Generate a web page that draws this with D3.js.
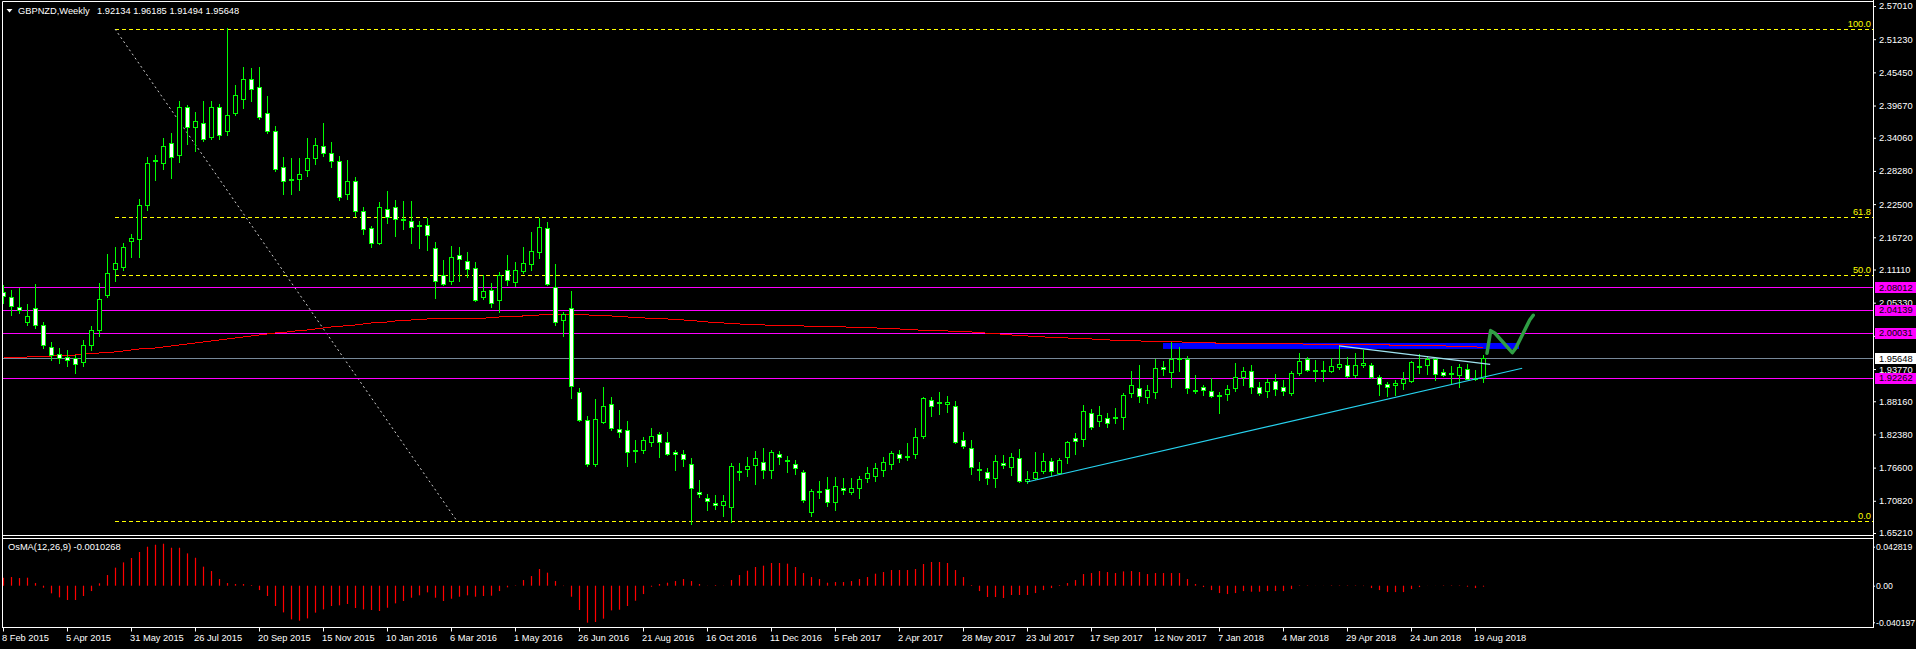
<!DOCTYPE html>
<html><head><meta charset="utf-8">
<script src="https://cdn.jsdelivr.net/npm/d3@7"></script>
<style>
html,body{margin:0;padding:0;background:#000;overflow:hidden}
svg{display:block}
text{font-family:"Liberation Sans",Arial,sans-serif;font-size:9.3px;fill:#fff}
.oaxis text{font-size:8.7px}
</style></head><body>
<svg id="c" width="1916" height="649"></svg>
<script>
const symbolTitle = "GBPNZD,Weekly";
const lastQuote = "1.92134 1.96185 1.91494 1.95648";
const oscTitle = "OsMA(12,26,9) -0.0010268";

const dateLabels = ["8 Feb 2015","5 Apr 2015","31 May 2015","26 Jul 2015","20 Sep 2015","15 Nov 2015","10 Jan 2016","6 Mar 2016","1 May 2016","26 Jun 2016","21 Aug 2016","16 Oct 2016","11 Dec 2016","5 Feb 2017","2 Apr 2017","28 May 2017","23 Jul 2017","17 Sep 2017","12 Nov 2017","7 Jan 2018","4 Mar 2018","29 Apr 2018","24 Jun 2018","19 Aug 2018"];
const dateTickIndex = [0,8,16,24,32,40,48,56,64,72,80,88,96,104,112,120,128,136,144,152,160,168,176,184];

const priceTickLabels = ["2.57010","2.51230","2.45450","2.39670","2.34060","2.28280","2.22500","2.16720","2.11110","2.05330","1.99550","1.93770","1.88160","1.82380","1.76600","1.70820","1.65210"];
const osmaTickValues = [0.042819, 0, -0.040197];
const osmaTickLabels = ["0.042819","0.00","-0.040197"];

const opens = [2.0719,2.0632,2.0458,2.0197,2.0441,2.0145,1.9761,1.9639,1.9587,1.9570,
1.9500,1.9796,2.0057,2.0667,2.1120,2.1155,2.1608,2.1642,2.2235,2.3002,
2.2967,2.3315,2.3106,2.3942,2.3594,2.3664,2.3419,2.3942,2.3524,2.3838,
2.4081,2.4429,2.4290,2.3838,2.3524,2.2897,2.2688,2.2688,2.2845,2.3054,
2.3263,2.3141,2.3002,2.2426,2.2653,2.2130,2.1834,2.1573,2.2165,2.2200,
2.1991,2.1957,2.1887,2.1887,2.1486,2.1016,2.0911,2.1364,2.1260,2.1138,
2.0632,2.0754,2.0580,2.1103,2.0893,2.1085,2.1207,2.1416,2.1834,2.0806,
2.0232,2.0441,1.8977,1.8490,1.7723,1.8455,1.8768,1.8333,1.8315,1.7967,
1.7967,1.8106,1.8246,1.8106,1.7932,1.7897,1.7723,1.7235,1.7131,1.7044,
1.7009,1.6974,1.7584,1.7636,1.7706,1.7758,1.7619,1.7897,1.7793,1.7723,
1.7584,1.6887,1.7253,1.7287,1.7061,1.7305,1.7235,1.7305,1.7479,1.7514,
1.7619,1.7723,1.7897,1.7845,1.7897,1.8211,1.8838,1.8803,1.8768,1.8733,
1.8141,1.8002,1.7619,1.7584,1.7479,1.7741,1.7671,1.7828,1.7427,1.7479,
1.7601,1.7776,1.7566,1.7845,1.8176,1.8159,1.8612,1.8472,1.8525,1.8525,
1.8542,1.8960,1.9047,1.8890,1.8977,1.9413,1.9326,1.9570,1.9553,1.9012,
1.9064,1.8995,1.8925,1.8942,1.9047,1.9239,1.9343,1.9064,1.8995,1.9169,
1.9064,1.8960,1.9309,1.9553,1.9361,1.9343,1.9343,1.9413,1.9448,1.9274,
1.9448,1.9448,1.9239,1.9117,1.9099,1.9134,1.9169,1.9413,1.9448,1.9553,
1.9326,1.9309,1.9274,1.9378,1.9204,1.92134];
const highs = [2.0841,2.0754,2.0789,2.0510,2.0858,2.0197,1.9848,1.9744,1.9709,1.9622,
1.9883,2.0127,2.0876,2.1381,2.1503,2.1573,2.1729,2.2339,2.3071,2.3106,
2.3402,2.3489,2.4047,2.3977,2.3855,2.4047,2.4047,2.3995,2.5318,2.4325,
2.4639,2.4622,2.4639,2.4134,2.3611,2.3071,2.3054,2.3054,2.3402,2.3402,
2.3664,2.3332,2.3089,2.3019,2.2722,2.2200,2.1869,2.2287,2.2479,2.2322,
2.2305,2.2305,2.1957,2.2009,2.1590,2.1277,2.1520,2.1503,2.1416,2.1242,
2.1016,2.0876,2.1068,2.1364,2.1242,2.1503,2.1764,2.2009,2.1939,2.1207,
2.0371,2.0737,1.9047,1.8559,1.8855,1.9064,1.8890,1.8664,1.8472,1.8141,
1.8193,1.8350,1.8280,1.8280,1.7967,1.7967,1.7828,1.7444,1.7200,1.7183,
1.7183,1.7741,1.7741,1.7845,1.7950,1.8002,1.7967,1.7950,1.7863,1.7793,
1.7619,1.7287,1.7427,1.7497,1.7497,1.7479,1.7479,1.7514,1.7671,1.7741,
1.7845,1.7950,1.7967,1.8089,1.8350,1.8890,1.8890,1.8977,1.8907,1.8820,
1.8280,1.8141,1.7758,1.7654,1.7880,1.7880,1.7915,1.7985,1.7601,1.7932,
1.7915,1.7828,1.7828,1.8124,1.8263,1.8751,1.8681,1.8733,1.8612,1.8699,
1.8960,1.9343,1.9448,1.9099,1.9553,1.9518,1.9848,1.9761,1.9605,1.9274,
1.9099,1.9221,1.8977,1.9099,1.9483,1.9413,1.9448,1.9151,1.9204,1.9291,
1.9186,1.9343,1.9657,1.9587,1.9535,1.9518,1.9570,1.9779,1.9587,1.9657,
1.9709,1.9483,1.9274,1.9151,1.9186,1.9326,1.9518,1.9639,1.9605,1.9587,
1.9378,1.9430,1.9465,1.9465,1.9361,1.96185];
const lows = [2.0528,2.0319,2.0354,2.0145,2.0093,1.9744,1.9535,1.9483,1.9430,1.9309,
1.9430,1.9709,1.9952,2.0632,2.0911,2.1103,2.1329,2.1329,2.2148,2.2670,
2.2862,2.2705,2.2984,2.3297,2.3176,2.3350,2.3385,2.3385,2.3454,2.3803,
2.3925,2.4047,2.3733,2.3489,2.2827,2.2426,2.2426,2.2496,2.2740,2.2950,
2.3089,2.2897,2.2322,2.2339,2.2043,2.1729,2.1503,2.1555,2.1921,2.1695,
2.1816,2.1573,2.1486,2.1451,2.0615,2.0841,2.0858,2.0911,2.0981,2.0563,
2.0597,2.0458,2.0371,2.0841,2.0824,2.1051,2.1103,2.1312,2.0841,2.0145,
1.9952,1.8873,1.8472,1.7689,1.7689,1.8437,1.8315,1.8193,1.7689,1.7758,
1.7915,1.8036,1.7845,1.7880,1.7619,1.7689,1.6678,1.7148,1.6922,1.6939,
1.6818,1.6713,1.7444,1.7514,1.7374,1.7479,1.7479,1.7723,1.7584,1.7549,
1.7061,1.6818,1.7131,1.6992,1.6922,1.7200,1.7200,1.7131,1.7409,1.7427,
1.7514,1.7636,1.7758,1.7793,1.7828,1.8176,1.8559,1.8594,1.8629,1.8089,
1.8002,1.7549,1.7444,1.7374,1.7322,1.7654,1.7531,1.7409,1.7392,1.7462,
1.7566,1.7531,1.7549,1.7741,1.7897,1.8036,1.8333,1.8385,1.8368,1.8437,
1.8333,1.8890,1.8803,1.8786,1.8873,1.9274,1.9064,1.9343,1.8960,1.8960,
1.8925,1.8890,1.8612,1.8838,1.8995,1.9099,1.8960,1.8925,1.8890,1.8925,
1.8925,1.8925,1.9274,1.9343,1.9169,1.9169,1.9326,1.9378,1.9239,1.9239,
1.9413,1.9221,1.8925,1.8907,1.8925,1.9029,1.9151,1.9309,1.9291,1.9186,
1.9256,1.9134,1.9064,1.9204,1.9186,1.91494];
const closes = [2.0649,2.0475,2.0406,2.0301,2.0145,1.9796,1.9622,1.9570,1.9535,1.9465,
1.9796,2.0057,2.0597,2.1051,2.1225,2.1503,2.1660,2.2235,2.2967,2.3019,
2.3263,2.3071,2.3942,2.3594,2.3699,2.3385,2.3942,2.3454,2.3803,2.4151,
2.4429,2.4255,2.3768,2.3524,2.2862,2.2653,2.2670,2.2775,2.3054,2.3280,
2.3141,2.3002,2.2374,2.2653,2.2130,2.1816,2.1573,2.2200,2.2026,2.1991,
2.1974,2.1852,2.1869,2.1712,2.0911,2.0858,2.1329,2.1294,2.1120,2.0580,
2.0737,2.0528,2.1016,2.0928,2.1103,2.1225,2.1433,2.1852,2.0858,2.0197,
2.0336,1.9082,1.8490,1.7723,1.8507,1.8733,1.8350,1.8280,1.7932,1.7950,
1.8141,1.8211,1.8106,1.7897,1.7897,1.7810,1.7305,1.7200,1.7079,1.7009,
1.7079,1.7689,1.7601,1.7689,1.7828,1.7619,1.7932,1.7845,1.7776,1.7654,
1.7096,1.7253,1.7235,1.7061,1.7340,1.7270,1.7305,1.7462,1.7566,1.7654,
1.7758,1.7915,1.7828,1.7863,1.8193,1.8873,1.8733,1.8786,1.8803,1.8106,
1.8036,1.7671,1.7636,1.7479,1.7776,1.7706,1.7845,1.7427,1.7462,1.7584,
1.7776,1.7601,1.7793,1.8106,1.8124,1.8646,1.8368,1.8577,1.8437,1.8542,
1.8925,1.9099,1.8907,1.9012,1.9396,1.9378,1.9553,1.9553,1.9047,1.8995,
1.9012,1.8907,1.8907,1.9029,1.9239,1.9343,1.9064,1.8960,1.9151,1.9029,
1.8995,1.9309,1.9518,1.9361,1.9343,1.9361,1.9430,1.9465,1.9256,1.9448,
1.9483,1.9239,1.9117,1.9064,1.9134,1.9204,1.9500,1.9430,1.9553,1.9291,
1.9274,1.9291,1.9413,1.9204,1.9221,1.95648];

const maValues = [1.9570,1.9570,1.9579,1.9587,1.9587,1.9596,1.9605,1.9605,1.9614,1.9622,
1.9640,1.9648,1.9657,1.9666,1.9675,1.9692,1.9709,1.9727,1.9735,1.9744,
1.9762,1.9779,1.9796,1.9814,1.9831,1.9849,1.9866,1.9884,1.9901,1.9918,
1.9936,1.9953,1.9971,1.9988,2.0005,2.0014,2.0032,2.0049,2.0058,2.0075,
2.0093,2.0110,2.0119,2.0136,2.0145,2.0162,2.0180,2.0188,2.0197,2.0215,
2.0223,2.0232,2.0241,2.0249,2.0258,2.0258,2.0258,2.0262,2.0262,2.0262,
2.0262,2.0275,2.0284,2.0284,2.0293,2.0302,2.0302,2.0319,2.0328,2.0331,
2.0331,2.0331,2.0328,2.0319,2.0314,2.0310,2.0302,2.0293,2.0284,2.0275,
2.0267,2.0262,2.0256,2.0249,2.0241,2.0232,2.0223,2.0209,2.0197,2.0188,
2.0180,2.0171,2.0162,2.0157,2.0152,2.0145,2.0141,2.0138,2.0134,2.0131,
2.0127,2.0124,2.0120,2.0117,2.0113,2.0110,2.0107,2.0103,2.0100,2.0093,
2.0087,2.0082,2.0075,2.0066,2.0058,2.0054,2.0051,2.0047,2.0040,2.0035,
2.0030,2.0023,2.0014,2.0000,1.9992,1.9983,1.9971,1.9962,1.9953,1.9945,
1.9936,1.9931,1.9925,1.9918,1.9913,1.9908,1.9901,1.9892,1.9884,1.9880,
1.9877,1.9873,1.9866,1.9863,1.9859,1.9856,1.9852,1.9849,1.9845,1.9842,
1.9838,1.9831,1.9830,1.9828,1.9826,1.9824,1.9824,1.9823,1.9821,1.9819,
1.9817,1.9816,1.9814,1.9812,1.9810,1.9809,1.9807,1.9807,1.9805,1.9803,
1.9802,1.9800,1.9798,1.9796,1.9795,1.9793,1.9791,1.9789,1.9786,1.9783,
1.9779,1.9776,1.9772,1.9769,1.9762,1.9756];

const osmaValues = [0.0088,0.0095,0.0084,0.0088,0.0029,-0.0022,-0.0084,-0.0128,-0.0157,-0.0157,-0.0113,-0.0059,
0.0026,0.0117,0.0198,0.0256,0.0304,0.0370,0.0428,0.0450,0.0461,0.0417,0.0417,0.0355,
0.0307,0.0209,0.0161,0.0073,0.0029,0.0018,0.0018,0.0007,-0.0048,-0.0113,-0.0223,-0.0293,
-0.0370,-0.0384,-0.0359,-0.0296,-0.0260,-0.0223,-0.0216,-0.0201,-0.0245,-0.0260,-0.0267,-0.0278,
-0.0242,-0.0194,-0.0168,-0.0132,-0.0106,-0.0073,-0.0132,-0.0168,-0.0143,-0.0121,-0.0106,-0.0121,
-0.0113,-0.0110,-0.0059,-0.0018,0.0004,0.0062,0.0106,0.0183,0.0143,0.0051,-0.0004,-0.0121,
-0.0267,-0.0406,-0.0399,-0.0362,-0.0271,-0.0264,-0.0223,-0.0165,-0.0092,-0.0011,0.0018,0.0033,
0.0051,0.0073,0.0051,0.0018,0.0002,0.0007,0.0002,0.0062,0.0117,0.0165,0.0205,0.0220,
0.0249,0.0249,0.0242,0.0205,0.0139,0.0095,0.0073,0.0033,0.0040,0.0040,0.0051,0.0073,
0.0095,0.0132,0.0150,0.0172,0.0172,0.0172,0.0183,0.0238,0.0260,0.0260,0.0249,0.0172,
0.0095,0.0007,-0.0059,-0.0124,-0.0124,-0.0135,-0.0102,-0.0102,-0.0102,-0.0081,-0.0048,-0.0026,
0.0007,0.0029,0.0062,0.0128,0.0139,0.0161,0.0150,0.0139,0.0157,0.0161,0.0150,0.0128,
0.0139,0.0139,0.0139,0.0139,0.0073,0.0018,-0.0015,-0.0048,-0.0081,-0.0092,-0.0081,-0.0059,
-0.0066,-0.0066,-0.0059,-0.0059,-0.0059,-0.0037,0.0004,0.0004,0.0001,0.0001,0.0004,0.0004,
0.0004,0.0004,-0.0004,-0.0026,-0.0048,-0.0070,-0.0070,-0.0070,-0.0037,-0.0015,0.0001,0.0001,
0.0004,0.0004,0.0004,-0.0011,-0.0026,-0.0010268];

const levelPrices = [2.08012, 2.04139, 2.00031, 1.92262];
const levelLabels = ["2.08012","2.04139","2.00031","1.92262"];
const bidPrice = 1.95648;
const bidLabel = "1.95648";
const fibAnchors = [[14, 2.530], [56.75, 1.673]];
const fibLevels = [0, 50, 61.8, 100];
const trendLower = [[128, 1.7410], [189.9, 1.9391]];
const trendUpper = [[167, 1.9779], [185.9, 1.9460]];
const zoneIdx = [145, 189.5];
const zonePrice = [1.9831, 1.9727];
const arrowPts = [[185.5,1.9652],[185.96,2.0046],[186.5,2.0001],[188.66,1.9662],[189.09,1.9739],[190.84,2.0232],[191.28,2.0314]];

const svg = d3.select("#c");
svg.append("rect").attr("width",1916).attr("height",649).attr("fill","#000");
const R = 1873;
const x = d3.scaleLinear().domain([0,184]).range([3,1475]);
const y = d3.scaleLinear().domain([1.6521,2.5701]).range([533,6]);
const yo = d3.scaleLinear().domain([-0.040197,0.042819]).range([622.3,546.7]);
const cx = i => x(i) + 0.5;
const py = v => Math.round(y(v)) + 0.5;

const defs = svg.append("defs");
defs.append("clipPath").attr("id","cm").append("rect").attr("x",3).attr("y",2).attr("width",R-3).attr("height",533);
defs.append("clipPath").attr("id","co").append("rect").attr("x",3).attr("y",539).attr("width",R-3).attr("height",88);
const main = svg.append("g").attr("clip-path","url(#cm)");

// Fibonacci
const fibHigh = fibAnchors[0][1], fibLow = fibAnchors[1][1];
fibLevels.forEach(l => {
  const p = fibLow + (fibHigh - fibLow) * l / 100;
  main.append("line").attr("x1", x(fibAnchors[0][0])).attr("x2", R).attr("y1", py(p)).attr("y2", py(p))
    .attr("stroke","#ffff00").attr("stroke-dasharray","4,3");
  svg.append("text").attr("x", R - 2).attr("y", py(p) - 2.5).attr("text-anchor","end")
    .style("fill","#ffff00").text(l.toFixed(1));
});
main.append("line").attr("x1", x(fibAnchors[0][0])).attr("y1", y(fibAnchors[0][1]))
  .attr("x2", x(fibAnchors[1][0])).attr("y2", y(fibAnchors[1][1]))
  .attr("stroke","#d0d0d0").attr("stroke-dasharray","2,3");

// horizontal levels
levelPrices.forEach(p => {
  main.append("line").attr("x1",3).attr("x2",R).attr("y1",py(p)).attr("y2",py(p)).attr("stroke","#ff00ff");
});
main.append("line").attr("x1",3).attr("x2",R).attr("y1",py(bidPrice)).attr("y2",py(bidPrice)).attr("stroke","#778899");

// zone
main.append("rect").attr("x", x(zoneIdx[0])).attr("width", x(zoneIdx[1]) - x(zoneIdx[0]))
  .attr("y", y(zonePrice[0])).attr("height", y(zonePrice[1]) - y(zonePrice[0])).attr("fill","#0000ff");

// MA
main.append("path").datum(maValues)
  .attr("d", d3.line().x((d,i) => cx(i)).y(d => y(d)))
  .attr("fill","none").attr("stroke","#ff0000").attr("stroke-width",1).attr("shape-rendering","crispEdges");

// candles
const idx = d3.range(opens.length);
const cg = main.append("g");
cg.selectAll("line.w").data(idx).join("line").attr("class","w")
  .attr("x1", i => cx(i)).attr("x2", i => cx(i))
  .attr("y1", i => Math.round(y(highs[i]))).attr("y2", i => Math.round(y(lows[i])) + 1)
  .attr("stroke","#00ff00").attr("shape-rendering","crispEdges");
cg.selectAll("rect.b").data(idx).join("rect").attr("class","b")
  .attr("x", i => cx(i) - 2).attr("width", 4)
  .attr("y", i => py(Math.max(opens[i], closes[i])))
  .attr("height", i => Math.max(1, py(Math.min(opens[i], closes[i])) - py(Math.max(opens[i], closes[i]))))
  .attr("fill", i => closes[i] >= opens[i] ? "#000" : "#fff")
  .attr("stroke","#00ff00").attr("shape-rendering","crispEdges");

// trendlines
[trendLower, trendUpper].forEach((t, k) => {
  main.append("line").attr("x1", x(t[0][0])).attr("y1", y(t[0][1])).attr("x2", x(t[1][0])).attr("y2", y(t[1][1]))
    .attr("stroke", k === 0 ? "#27d3f0" : "#9fe4f0").attr("stroke-width",1.2);
});

// hand-drawn arrow
main.append("path").datum(arrowPts).attr("d", d3.line().x(d => x(d[0])).y(d => y(d[1])))
  .attr("fill","none").attr("stroke","#2f9e44").attr("stroke-width",3.5)
  .attr("stroke-linecap","round").attr("stroke-linejoin","round");

// OsMA
const og = svg.append("g").attr("clip-path","url(#co)");
og.selectAll("line").data(idx).join("line")
  .attr("x1", i => cx(i)).attr("x2", i => cx(i))
  .attr("y1", yo(0)).attr("y2", i => yo(osmaValues[i]))
  .attr("stroke","#ff0000").attr("stroke-width",1.2);

// frames
const frame = [[2.5,1.5,R+0.5,1.5],[2.5,1.5,2.5,628],[2.5,535.5,R+0.5,535.5],[2.5,538.5,R+0.5,538.5],[2.5,627.5,R+0.5,627.5],[R+0.5,0,R+0.5,628]];
frame.forEach(f => svg.append("line").attr("x1",f[0]).attr("y1",f[1]).attr("x2",f[2]).attr("y2",f[3]).attr("stroke","#fff"));

// price axis
const pAxis = d3.axisRight(y).tickValues(priceTickLabels.map(Number)).tickFormat((d,i) => priceTickLabels[i])
  .tickSize(3).tickPadding(3).tickSizeOuter(0);
svg.append("g").attr("transform",`translate(${R},0)`).call(pAxis)
  .call(g => g.select(".domain").remove())
  .call(g => g.selectAll("line").attr("stroke","#fff"));

// osma axis
const oAxis = d3.axisRight(yo).tickValues(osmaTickValues).tickFormat((d,i) => osmaTickLabels[i])
  .tickSize(2).tickPadding(1).tickSizeOuter(0);
svg.append("g").attr("class","oaxis").attr("transform",`translate(${R},0)`).call(oAxis)
  .call(g => g.select(".domain").remove())
  .call(g => g.selectAll("line").attr("stroke","#fff"));

// date axis
const dAxis = d3.axisBottom(x).tickValues(dateTickIndex).tickFormat((d,i) => dateLabels[i])
  .tickSize(4).tickPadding(3).tickSizeOuter(0);
svg.append("g").attr("transform","translate(0,627.5)").call(dAxis)
  .call(g => g.select(".domain").remove())
  .call(g => g.selectAll("line").attr("stroke","#fff"))
  .call(g => g.selectAll("text").attr("text-anchor","start").attr("x",-1.5));

// level label boxes
levelPrices.forEach((p,k) => {
  const yc = y(p);
  svg.append("rect").attr("x",R+2).attr("y",Math.round(yc)-5).attr("width",1916-R-2).attr("height",11).attr("fill","#ff00ff");
  svg.append("text").attr("x",R+6).attr("y",yc).attr("dy","0.36em").style("fill","#000").text(levelLabels[k]);
});
{
  const yc = y(bidPrice);
  svg.append("rect").attr("x",R+2).attr("y",Math.round(yc)-5).attr("width",1916-R-2).attr("height",11).attr("fill","#fff");
  svg.append("text").attr("x",R+6).attr("y",yc).attr("dy","0.36em").style("fill","#000").text(bidLabel);
}

// header
svg.append("path").attr("d","M6.5,9 L12.5,9 L9.5,12.5 Z").attr("fill","#fff");
svg.append("text").attr("x",18).attr("y",11).attr("dy","0.36em").text(symbolTitle);
svg.append("text").attr("x",97).attr("y",11).attr("dy","0.36em").text(lastQuote);
svg.append("text").attr("x",8).attr("y",547).attr("dy","0.36em").text(oscTitle);
</script>
</body></html>
